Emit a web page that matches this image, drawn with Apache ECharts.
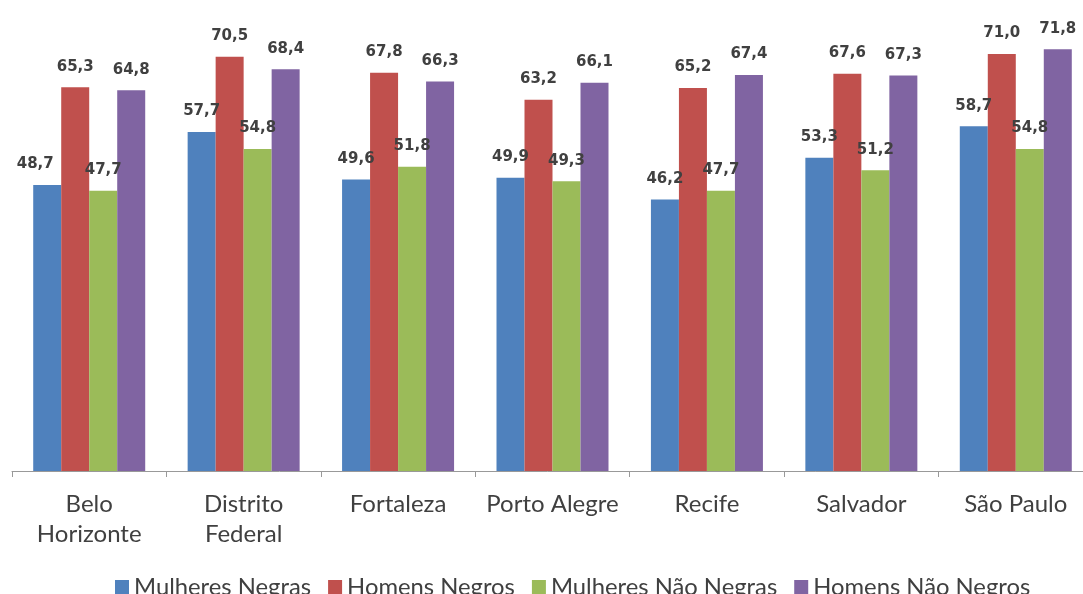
<!DOCTYPE html>
<html>
<head>
<meta charset="utf-8">
<script src="https://cdn.jsdelivr.net/npm/echarts@6/dist/echarts.min.js"></script>
<style>
  html, body { margin: 0; padding: 0; background: #fff; }
  #chart { width: 1083px; height: 594px; }
</style>
</head>
<body>
<div id="chart"></div>
<script>
var cidades = ['Belo\nHorizonte', 'Distrito\nFederal', 'Fortaleza', 'Porto Alegre', 'Recife', 'Salvador', 'São Paulo'];
var mulheresNegras = [48.7, 57.7, 49.6, 49.9, 46.2, 53.3, 58.7];
var homensNegros = [65.3, 70.5, 67.8, 63.2, 65.2, 67.6, 71.0];
var mulheresNaoNegras = [47.7, 54.8, 51.8, 49.3, 47.7, 51.2, 54.8];
var homensNaoNegros = [64.8, 68.4, 66.3, 66.1, 67.4, 67.3, 71.8];

var nomes = ['Mulheres Negras', 'Homens Negros', 'Mulheres Não Negras', 'Homens Não Negros'];
var cores = ['#4F81BD', '#C0504D', '#9BBB59', '#8064A2'];
var valores = [mulheresNegras, homensNegros, mulheresNaoNegras, homensNaoNegros];

var chart = echarts.init(document.getElementById('chart'));

var series = valores.map(function (vals, s) {
    return {
        name: nomes[s],
        type: 'bar',
        barWidth: 28,
        barGap: '0%',
        itemStyle: { color: cores[s] },
        label: {
            show: true,
            position: 'top',
            distance: 13,
            fontFamily: 'DejaVu Sans',
            fontWeight: 'bold',
            fontSize: 15,
            color: '#404040',
            formatter: function (p) {
                return p.value.toFixed(1).replace('.', ',');
            }
        },
        data: vals.map(function (v, i) {
            // primeiro rótulo azul fica deslocado à esquerda no original
            if (s === 0 && i === 0) {
                return { value: v, label: { offset: [-12, 0] } };
            }
            return v;
        })
    };
});

var option = {
    animation: false,
    grid: { left: 12, top: 1, width: 1081, height: 470, outerBoundsMode: 'none', containLabel: false },
    legend: {
        data: nomes,
        left: 110,
        top: 570,
        itemWidth: 14,
        itemHeight: 14,
        itemGap: 17,
        icon: 'rect',
        textStyle: { fontFamily: 'Lato', fontSize: 23.8, color: '#404040', padding: [0, 0, 0, 0] }
    },
    xAxis: {
        type: 'category',
        data: cidades,
        axisLine: { lineStyle: { color: '#999999', width: 1 } },
        axisTick: { show: true, length: 6, lineStyle: { color: '#999999' } },
        axisLabel: {
            margin: 18,
            fontFamily: 'Lato',
            fontSize: 24,
            lineHeight: 30,
            color: '#404040',
            interval: 0
        }
    },
    yAxis: {
        type: 'value',
        min: 0,
        max: 80,
        show: false,
        splitLine: { show: false }
    },
    series: series
};

chart.setOption(option);
</script>
</body>
</html>
